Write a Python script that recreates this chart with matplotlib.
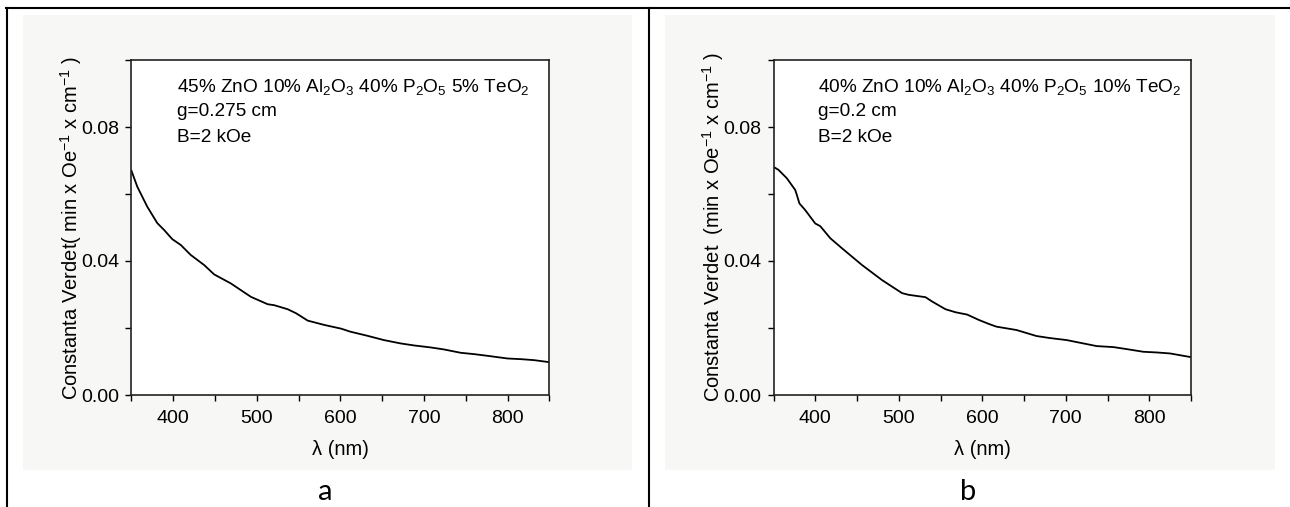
import matplotlib
matplotlib.use("Agg")
import matplotlib.pyplot as plt
from matplotlib.lines import Line2D
from matplotlib.patches import Rectangle
from matplotlib.ticker import MultipleLocator

plt.rcParams["font.family"] = ["Liberation Sans", "DejaVu Sans"]
plt.rcParams["mathtext.fontset"] = "custom"
plt.rcParams["mathtext.rm"] = "Liberation Sans"
plt.rcParams["mathtext.it"] = "Liberation Sans:italic"
plt.rcParams["mathtext.default"] = "regular"

# panel a: 45% ZnO, 5% TeO2
wl_a = [350, 357, 369, 381, 389, 399, 409, 421, 437, 449, 469, 493, 513, 521,
        537, 547, 561, 581, 601, 612, 632, 652, 672, 688, 708, 724, 744, 760,
        776, 800, 816, 832, 850]
verdet_a = [0.0670, 0.0622, 0.0562, 0.0513, 0.0493, 0.0465, 0.0448, 0.0418,
            0.0388, 0.0360, 0.0333, 0.0293, 0.0271, 0.0268, 0.0256, 0.0244,
            0.0222, 0.0209, 0.0198, 0.0189, 0.0177, 0.0164, 0.0154, 0.0148,
            0.0142, 0.0136, 0.0126, 0.0122, 0.0117, 0.0109, 0.0107, 0.0104,
            0.0098]

# panel b: 40% ZnO, 10% TeO2
wl_b = [350, 356, 366, 376, 378, 381, 388, 400, 406, 418, 432, 456, 480, 504,
        512, 532, 540, 556, 568, 582, 596, 608, 617, 641, 665, 681, 701, 717,
        737, 757, 773, 793, 809, 825, 850]
verdet_b = [0.0681, 0.0672, 0.0647, 0.0612, 0.0597, 0.0572, 0.0552, 0.0512,
            0.0504, 0.0468, 0.0438, 0.0388, 0.0343, 0.0304, 0.0299, 0.0292,
            0.0279, 0.0256, 0.0247, 0.0240, 0.0224, 0.0212, 0.0204, 0.0194,
            0.0176, 0.0170, 0.0164, 0.0156, 0.0146, 0.0143, 0.0137, 0.0129,
            0.0127, 0.0124, 0.0113]

notes_a = ["45% ZnO 10% Al$_2$O$_3$ 40% P$_2$O$_5$ 5% TeO$_2$", "g=0.275 cm", "B=2 kOe"]
notes_b = ["40% ZnO 10% Al$_2$O$_3$ 40% P$_2$O$_5$ 10% TeO$_2$", "g=0.2 cm", "B=2 kOe"]
ylabel_a = "Constanta Verdet( min x Oe$^{-1}$ x cm$^{-1}$ )"
ylabel_b = "Constanta Verdet  (min x Oe$^{-1}$ x cm$^{-1}$ )"
panel_tags = ["a", "b"]

W, H = 1290, 507
fig = plt.figure(figsize=(W / 100, H / 100), dpi=100)


def px_box(x0, y0, x1, y1):
    # pixel box (top-left origin) -> figure fraction rect
    return [x0 / W, 1 - y1 / H, (x1 - x0) / W, (y1 - y0) / H]


# light grey picture backgrounds
for gx0, gx1 in [(23, 632), (665, 1275)]:
    r = px_box(gx0, 15, gx1, 470)
    fig.add_artist(Rectangle((r[0], r[1]), r[2], r[3], transform=fig.transFigure,
                             facecolor="#f7f7f6", edgecolor="none", zorder=0))

# table borders
lw_border = 1.5
fig.add_artist(Line2D([6 / W, 1.0], [1 - 8 / H, 1 - 8 / H], transform=fig.transFigure,
                      color="black", lw=lw_border))
for vx in [7, 649]:
    fig.add_artist(Line2D([vx / W, vx / W], [0, 1 - 8 / H], transform=fig.transFigure,
                          color="black", lw=lw_border))

panels = [
    (px_box(131.4, 60, 549.3, 395), wl_a, verdet_a, notes_a, ylabel_a, 177, 325),
    (px_box(773.5, 60, 1191, 395), wl_b, verdet_b, notes_b, ylabel_b, 818, 968),
]

for i, (rect, wl, vd, notes, ylab, note_x, tag_x) in enumerate(panels):
    ax = fig.add_axes(rect)
    ax.plot(wl, vd, color="black", lw=1.3)
    ax.set_xlim(350, 850)
    ax.set_ylim(0, 0.1)
    ax.xaxis.set_major_locator(MultipleLocator(100))
    ax.xaxis.set_minor_locator(MultipleLocator(50))
    ax.yaxis.set_major_locator(MultipleLocator(0.04))
    ax.yaxis.set_minor_locator(MultipleLocator(0.02))
    ax.set_xticks([400, 500, 600, 700, 800])
    ax.yaxis.set_major_formatter(plt.FuncFormatter(lambda v, p: f"{v:.2f}"))
    ax.tick_params(which="both", direction="out", length=4, width=1.0,
                   labelsize=14, pad=5)
    ax.tick_params(axis="x", pad=7)
    for s in ax.spines.values():
        s.set_linewidth(1.2)
        s.set_color("#222222")
    ax.set_xlabel("λ (nm)", fontsize=14.5, labelpad=9)
    ax.set_ylabel(ylab, fontsize=14.5, labelpad=-2)
    ax.set_facecolor("white")

    for k, line in enumerate(notes):
        fig.text(note_x / W, 1 - (87 + 25 * k) / H, line, fontsize=13.7,
                 ha="left", va="center")

    fig.text(tag_x / W, 1 - 492 / H, panel_tags[i], fontsize=21,
             family=["Lato", "DejaVu Sans"], ha="center", va="center")

fig.savefig("out.png", dpi=100)
